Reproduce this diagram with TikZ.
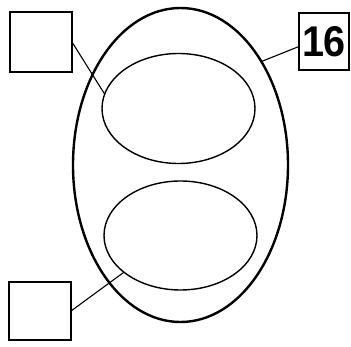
\documentclass[tikz,border=0pt]{standalone}
\usepackage{fontspec}
\setmainfont{Liberation Sans}
\usetikzlibrary{shapes.geometric}
\begin{document}
\begin{tikzpicture}[x=1pt,y=-1pt,
  labelbox/.style={draw, line width=1.4pt, inner sep=0pt, outer sep=0pt},
  oval/.style={draw, ellipse, inner sep=0pt, outer sep=0pt},
  connector/.style={line width=1.1pt}]
\useasboundingbox (0,0) rectangle (351,347);
\node[labelbox, minimum width=62pt, minimum height=60pt] (tl) at (41,42) {};
\node[labelbox, minimum width=62pt, minimum height=58pt] (bl) at (40,311) {};
\node[labelbox, minimum width=50pt, minimum height=57pt, font=\fontsize{43}{43}\selectfont\bfseries] (n16) at (324,41.5) {\scalebox{0.92}[1]{16}};
\node[oval, line width=2.4pt, minimum width=215pt, minimum height=314pt] (outer) at (180.5,165) {};
\node[oval, line width=1.4pt, minimum width=153pt, minimum height=110pt] (up) at (178.5,108.5) {};
\node[oval, line width=1.4pt, minimum width=153pt, minimum height=109pt] (low) at (180.5,235.5) {};
\draw[connector] (tl.east) -- (up.169.5);
\draw[connector] (bl.east) -- (low.213);
\draw[connector] ([yshift=-5pt]n16.west) -- (outer.52);
\end{tikzpicture}
\end{document}
